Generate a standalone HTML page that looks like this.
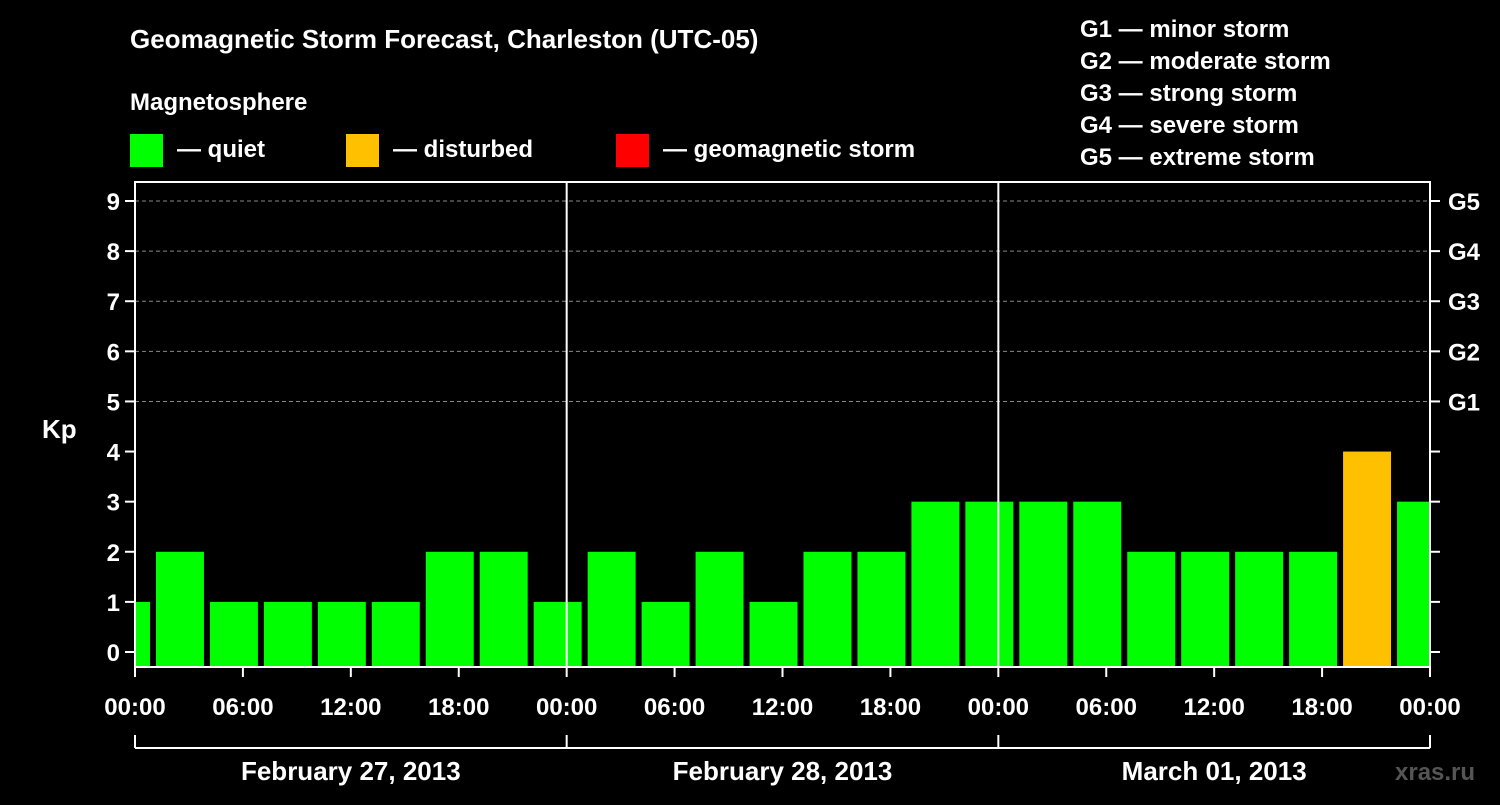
<!DOCTYPE html>
<html><head><meta charset="utf-8"><style>
html,body{margin:0;padding:0;background:#000;}
svg text{font-family:"Liberation Sans",Arial,sans-serif;font-weight:bold;fill:#fff;}
</style></head><body>
<svg id="chart" width="1500" height="800" xmlns="http://www.w3.org/2000/svg">
<rect width="1500" height="800" fill="#000"/>
<text x="130" y="48" font-size="26">Geomagnetic Storm Forecast, Charleston (UTC-05)</text>
<text x="130" y="110" font-size="24">Magnetosphere</text>
<g>
<rect x="130" y="134" width="33" height="33" fill="#00ff00"/>
<text x="177" y="157" font-size="24">— quiet</text>
<rect x="346" y="134" width="33" height="33" fill="#ffc000"/>
<text x="393" y="157" font-size="24">— disturbed</text>
<rect x="616" y="134" width="33" height="33" fill="#ff0000"/>
<text x="663" y="157" font-size="24">— geomagnetic storm</text>
</g>
<g font-size="24">
<text x="1080" y="37">G1 — minor storm</text>
<text x="1080" y="69">G2 — moderate storm</text>
<text x="1080" y="101">G3 — strong storm</text>
<text x="1080" y="133">G4 — severe storm</text>
<text x="1080" y="165">G5 — extreme storm</text>
</g>
<text x="42" y="438" font-size="26">Kp</text>
<g id="grid"></g><g id="bars"></g><g id="axes"></g>
<text x="1395" y="780" font-size="24" fill="#555" style="fill:#555">xras.ru</text>
</svg>
<script>
const kpValues=[1,2,1,1,1,1,2,2,1,2,1,2,1,2,2,3,3,3,3,2,2,2,2,4,3];
const dayLabels=["February 27, 2013","February 28, 2013","March 01, 2013"];
const timeLabels=["00:00","06:00","12:00","18:00","00:00","06:00","12:00","18:00","00:00","06:00","12:00","18:00","00:00"];
const gLabels=["G1","G2","G3","G4","G5"];
const firstBlockStartHour=-2;
const NS="http://www.w3.org/2000/svg";
const X0=135,X1=1430,YT=182,YB=667,hours=72;
const xs=h=>X0+(X1-X0)*h/hours;
const ys=v=>652-v*(652-201)/9;
function mk(tag,attrs,parent){const e=document.createElementNS(NS,tag);for(const k in attrs)e.setAttribute(k,attrs[k]);parent.appendChild(e);return e;}
const grid=document.getElementById('grid'),bars=document.getElementById('bars'),axes=document.getElementById('axes');
for(let v=5;v<=9;v++){const l=mk('line',{x1:X0,x2:X1,y1:ys(v),y2:ys(v),stroke:'#888','stroke-width':1,'stroke-dasharray':'4,3'},grid);

}
kpValues.forEach((v,i)=>{
 const h0=firstBlockStartHour+3*i,h1=h0+3;
 let x0=xs(h0)+3,x1=xs(h1)-3;
 x0=Math.max(x0,X0);x1=Math.min(x1,X1);
 const col=v>=5?'#ff0000':(v>=4?'#ffc000':'#00ff00');
 const r=mk('rect',{x:x0,y:ys(v),width:x1-x0,height:YB-ys(v),fill:col},bars);
 
 
});
mk('rect',{x:X0,y:YT,width:X1-X0,height:YB-YT,fill:'none',stroke:'#fff','stroke-width':2},axes);
for(let d=1;d<3;d++){const l=mk('line',{x1:xs(24*d),x2:xs(24*d),y1:YT,y2:YB,stroke:'#fff','stroke-width':2},axes);

}
for(let v=0;v<=9;v++){
 mk('line',{x1:X0-10,x2:X0,y1:ys(v),y2:ys(v),stroke:'#fff','stroke-width':2},axes);
 mk('line',{x1:X1,x2:X1+10,y1:ys(v),y2:ys(v),stroke:'#fff','stroke-width':2},axes);
 const t=mk('text',{x:X0-15,y:ys(v)+9,'font-size':24,'text-anchor':'end'},axes);t.textContent=v;
 
 
}
gLabels.forEach((g,i)=>{const t=mk('text',{x:X1+18,y:ys(5+i)+9,'font-size':24},axes);t.textContent=g;

});
timeLabels.forEach((s,i)=>{const x=xs(6*i);
 mk('line',{x1:x,x2:x,y1:YB,y2:YB+10,stroke:'#fff','stroke-width':2},axes);
 const t=mk('text',{x:x,y:715,'font-size':24,'text-anchor':'middle'},axes);t.textContent=s;
 
 });
mk('line',{x1:X0,x2:X1,y1:748,y2:748,stroke:'#fff','stroke-width':2},axes);
for(let d=0;d<=3;d++)mk('line',{x1:xs(24*d),x2:xs(24*d),y1:735,y2:748,stroke:'#fff','stroke-width':2},axes);
dayLabels.forEach((s,i)=>{const t=mk('text',{x:xs(24*i+12),y:780,'font-size':26,'text-anchor':'middle'},axes);t.textContent=s;

});
</script>
</body></html>
